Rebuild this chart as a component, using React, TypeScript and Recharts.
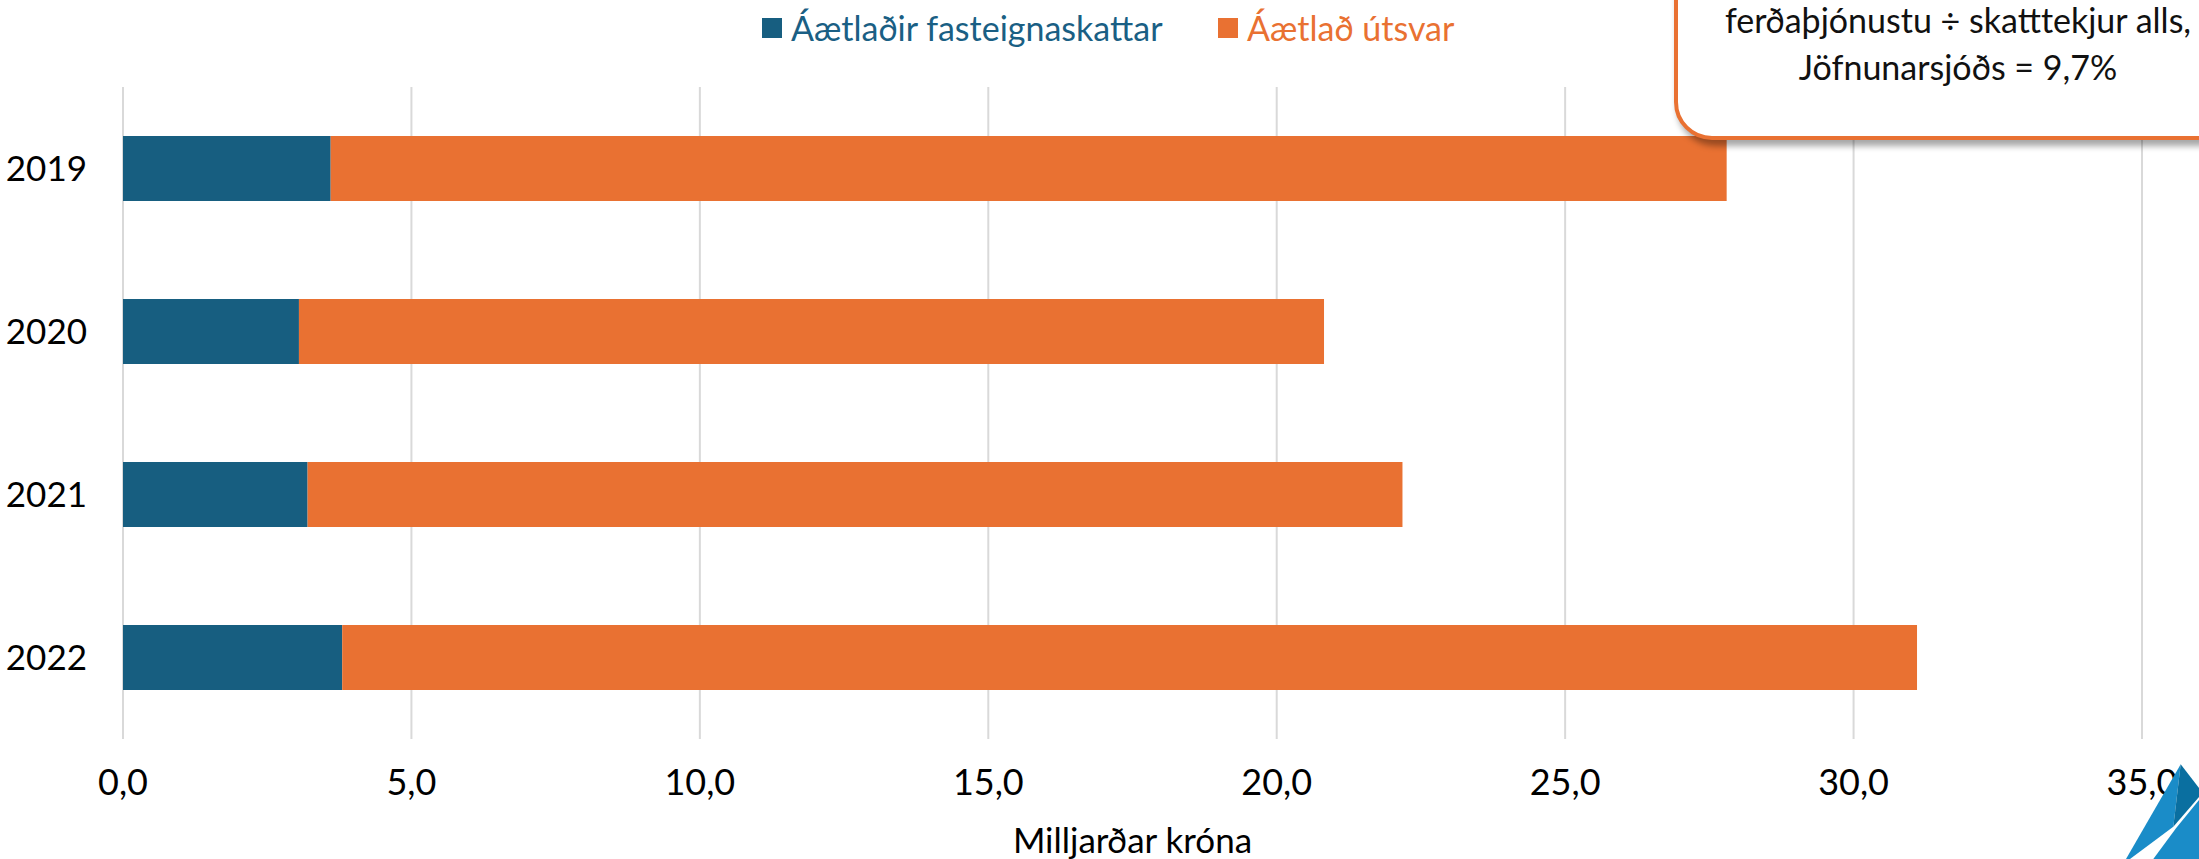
import React from 'react';
import { BarChart, Bar, XAxis, YAxis, CartesianGrid, Legend } from 'recharts';

const years = ['2019', '2020', '2021', '2022'];
const fasteignaskattar = [3.6, 3.05, 3.2, 3.8];
const utsvar = [24.2, 17.77, 18.98, 27.3];
const xTicks = [0, 5, 10, 15, 20, 25, 30, 35];
const seriesNames = ['Áætlaðir fasteignaskattar', 'Áætlað útsvar'];
const seriesColors = ['#175e80', '#e97132'];
const legendTextColors = ['#1a5f84', '#e97132'];
const boxLines = ['ferðaþjónustu ÷ skatttekjur alls,', 'Jöfnunarsjóðs = 9,7%'];
const axisTitle = 'Milljarðar króna';

const data = years.map((y, i) => ({ year: y, fast: fasteignaskattar[i], uts: utsvar[i] }));

const FONT = 'Lato, "Open Sans", sans-serif';

const legendLefts = [762, 1218];

const renderLegend = () => (
  <div style={{ position: 'relative', width: 900, height: 50 }}>
    {seriesNames.map((n, i) => (
      <div
        key={n}
        style={{
          position: 'absolute',
          left: legendLefts[i] - 762,
          top: 0,
          display: 'flex',
          alignItems: 'center',
          whiteSpace: 'nowrap',
        }}
      >
        <span style={{ display: 'inline-block', width: 20, height: 20, background: seriesColors[i], marginRight: 9 }} />
        <span style={{ fontFamily: FONT, fontSize: 34, color: legendTextColors[i], lineHeight: '40px' }}>{n}</span>
      </div>
    ))}
  </div>
);

export default function App() {
  return (
    <div
      style={{
        position: 'absolute',
        left: 0,
        top: 0,
        width: 2199,
        height: 859,
        overflow: 'hidden',
        background: '#fff',
        fontFamily: FONT,
      }}
    >
      <BarChart
        width={2199}
        height={859}
        data={data}
        layout="vertical"
        margin={{ top: 87, right: 57, bottom: 0, left: 0 }}
        barSize={65}
      >
        <CartesianGrid horizontal={false} vertical={true} stroke="#d9d9d9" strokeWidth={2} />
        <XAxis
          type="number"
          domain={[0, 35]}
          ticks={xTicks}
          interval={0}
          axisLine={false}
          tickLine={false}
          tickSize={0}
          tickMargin={30}
          height={120}
          tickFormatter={(v: number) => v.toFixed(1).replace('.', ',')}
          tick={{ fontFamily: FONT, fontSize: 36, fill: '#000' }}
          label={{ value: axisTitle, position: 'insideBottom', offset: 6, fontFamily: FONT, fontSize: 35, fill: '#000' }}
        />
        <YAxis
          type="category"
          dataKey="year"
          width={123}
          axisLine={false}
          tickLine={false}
          tickSize={0}
          tickMargin={36}
          tick={{ fontFamily: FONT, fontSize: 35, fill: '#000' }}
        />
        <Legend
          layout="horizontal"
          verticalAlign="middle"
          align="center"
          content={renderLegend}
          wrapperStyle={{ position: 'absolute', top: 8, left: 762, width: 900, height: 50 }}
        />
        <Bar dataKey="fast" name={seriesNames[0]} stackId="a" fill={seriesColors[0]} isAnimationActive={false} />
        <Bar dataKey="uts" name={seriesNames[1]} stackId="a" fill={seriesColors[1]} isAnimationActive={false} />
      </BarChart>

      <div
        style={{
          position: 'absolute',
          left: 1674,
          top: -80,
          width: 620,
          height: 220,
          boxSizing: 'border-box',
          border: '4px solid #e97132',
          borderRadius: 38,
          background: '#fff',
          boxShadow: '3px 6px 6px rgba(0,0,0,0.35)',
        }}
      />
      {boxLines.map((t, i) => (
        <div
          key={t}
          style={{
            position: 'absolute',
            left: 1958 - 300,
            width: 600,
            top: 20 + i * 47 - 22,
            textAlign: 'center',
            fontFamily: FONT,
            fontSize: 34,
            lineHeight: '44px',
            color: '#111',
            whiteSpace: 'nowrap',
          }}
        >
          {t}
        </div>
      ))}

      <svg style={{ position: 'absolute', left: 0, top: 0 }} width={2199} height={859}>
        <polygon points="2180.7,764.3 2173.3,826.7 2130,859 2126,859" fill="#1a8cc8" />
        <polygon points="2180.7,764.3 2199,788 2199,797 2173.3,826.7" fill="#0a6fa0" />
        <polygon points="2176,828.3 2199,800 2199,859 2153.3,859" fill="#1a8cc8" />
      </svg>
    </div>
  );
}
